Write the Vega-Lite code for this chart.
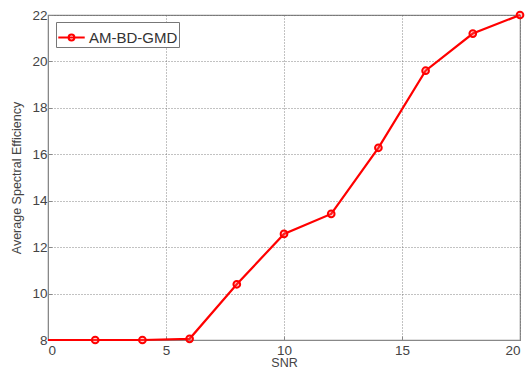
{
  "$schema": "https://vega.github.io/schema/vega-lite/v6.json",
  "width": 472,
  "height": 325,
  "autosize": "none",
  "padding": {"left": 48, "top": 15, "right": 10, "bottom": 34},
  "background": "white",
  "config": {
    "font": "Liberation Sans",
    "view": {"stroke": "#888888", "strokeWidth": 1.2},
    "axis": {
      "labelColor": "#444444",
      "titleColor": "#444444",
      "labelFontSize": 13.5,
      "titleFontSize": 12.5,
      "titleFontWeight": "normal",
      "domainColor": "#888888",
      "tickColor": "#888888",
      "tickSize": -4,
      "gridColor": "#666666",
      "gridDash": [1, 2],
      "gridOpacity": 0.8,
      "labelPadding": 5
    }
  },
  "data": {
    "values": [
      {"snr": 0, "ase": 8.0, "series": "AM-BD-GMD"},
      {"snr": 2, "ase": 8.0, "series": "AM-BD-GMD"},
      {"snr": 4, "ase": 8.0, "series": "AM-BD-GMD"},
      {"snr": 6, "ase": 8.05, "series": "AM-BD-GMD"},
      {"snr": 8, "ase": 10.4, "series": "AM-BD-GMD"},
      {"snr": 10, "ase": 12.57, "series": "AM-BD-GMD"},
      {"snr": 12, "ase": 13.43, "series": "AM-BD-GMD"},
      {"snr": 14, "ase": 16.28, "series": "AM-BD-GMD"},
      {"snr": 16, "ase": 19.6, "series": "AM-BD-GMD"},
      {"snr": 18, "ase": 21.2, "series": "AM-BD-GMD"},
      {"snr": 20, "ase": 22.0, "series": "AM-BD-GMD"}
    ]
  },
  "encoding": {
    "x": {
      "field": "snr", "type": "quantitative",
      "scale": {"domain": [0, 20], "nice": false},
      "axis": {"values": [0, 5, 10, 15, 20], "title": "SNR", "titlePadding": 0, "labelPadding": 7}
    },
    "y": {
      "field": "ase", "type": "quantitative",
      "scale": {"domain": [8, 22], "nice": false, "zero": false},
      "axis": {"values": [8, 10, 12, 14, 16, 18, 20, 22], "title": "Average Spectral Efficiency", "titlePadding": 8}
    }
  },
  "layer": [
    {
      "mark": {"type": "line", "strokeWidth": 2.2, "clip": false},
      "encoding": {
        "color": {
          "field": "series", "type": "nominal",
          "scale": {"range": ["#ff0000"]},
          "legend": {
            "title": null,
            "orient": "none",
            "legendX": 8,
            "legendY": 7,
            "fillColor": "white",
            "strokeColor": "#777777",
            "padding": 1,
            "labelFontSize": 15,
            "labelColor": "#333333",
            "symbolType": "M-1,0L1,0M-0.22,0A0.22,0.22 0 1,1 0.22,0A0.22,0.22 0 1,1 -0.22,0",
            "symbolSize": 700,
            "symbolStrokeWidth": 2,
            "symbolFillColor": "transparent",
            "labelOffset": 3
          }
        }
      }
    },
    {
      "transform": [{"filter": "datum.snr > 0"}],
      "mark": {"type": "point", "shape": "circle", "size": 45, "stroke": "#ff0000", "strokeWidth": 2, "fill": "#ff6666", "fillOpacity": 0.3, "opacity": 1, "clip": false}
    }
  ]
}
